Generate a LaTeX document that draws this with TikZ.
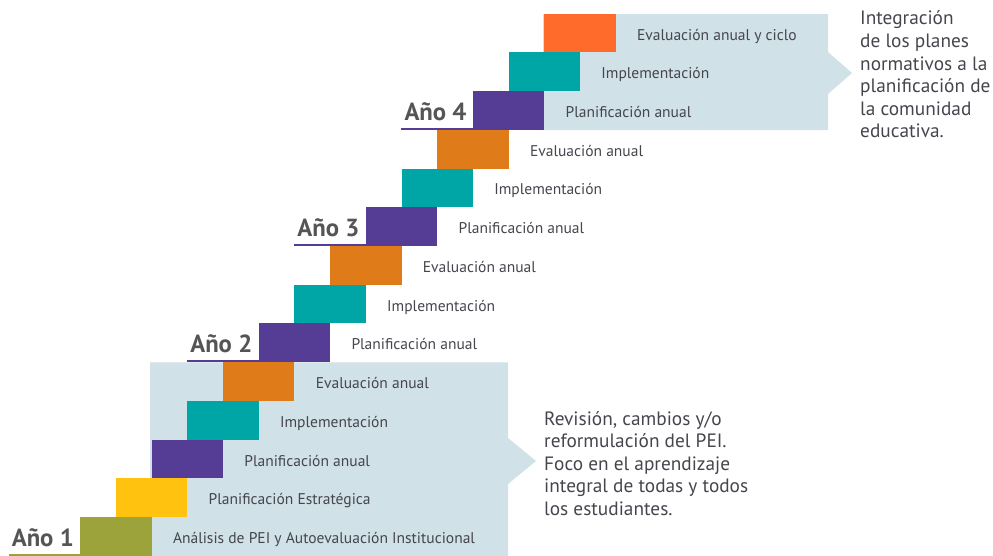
\documentclass[tikz,border=0pt]{standalone}
\usepackage{fontspec}
\setmainfont{PT Sans}
\definecolor{cOlive}{HTML}{9BA33A}
\definecolor{cYellow}{HTML}{FFC20E}
\definecolor{cPurple}{HTML}{553D96}
\definecolor{cTeal}{HTML}{00A6A6}
\definecolor{cOrange}{HTML}{E07B1A}
\definecolor{cRed}{HTML}{FF6B2B}
\definecolor{cBox}{HTML}{D0E1E7}
\definecolor{cText}{HTML}{45454D}
\definecolor{cYear}{HTML}{555555}
\newlength\tmpw
\begin{document}
\settowidth\tmpw{\fontsize{10pt}{12pt}\selectfont Análisis de PEI y Autoevaluación Institucional}%
\pgfmathsetmacro\fsStep{10*302/\tmpw}%
\settowidth\tmpw{\fontsize{10pt}{12pt}\selectfont\bfseries Año 4}%
\pgfmathsetmacro\fsYear{10*62/\tmpw}%
\settowidth\tmpw{\fontsize{10pt}{12pt}\selectfont integral de todas y todos}%
\pgfmathsetmacro\fsSide{10*204/\tmpw}%
\begin{tikzpicture}[x=1pt,y=-1pt,
  stepbox/.style={minimum width=71.4pt,minimum height=38.72pt,inner sep=0,draw=none,anchor=south west},
  steplabel/.style={font=\fontsize{\fsStep pt}{\fsStep pt}\selectfont,text=cText,inner sep=0,anchor=base west},
  yearlabel/.style={font=\fontsize{\fsYear pt}{\fsYear pt}\selectfont\bfseries,text=cYear,inner xsep=3pt,inner ysep=0,anchor=base east},
  sidetext/.style={font=\fontsize{\fsSide pt}{\fsSide pt}\selectfont,text=cText,inner sep=0,anchor=base west},
  yearline/.style={line width=2.5pt}]
\useasboundingbox (0,0) rectangle (993,556);
\def\dx{35.7}\def\dy{38.72}
% background boxes with arrow tips
\fill[cBox] (150,362.4) -- (508,362.4) -- (508,438) -- (536,461) -- (508,484) -- (508,556) -- (150,556) -- cycle;
\fill[cBox] (543,14.2) -- (828,14.2) -- (828,52) -- (852,73) -- (828,94) -- (828,130.1) -- (543,130.1) -- cycle;
% steps
\foreach \k/\c/\t in {0/cOlive/{Análisis de PEI y Autoevaluación Institucional},
  1/cYellow/{Planificación Estratégica},
  2/cPurple/{Planificación anual},
  3/cTeal/{Implementación},
  4/cOrange/{Evaluación anual},
  5/cPurple/{Planificación anual},
  6/cTeal/{Implementación},
  7/cOrange/{Evaluación anual},
  8/cPurple/{Planificación anual},
  9/cTeal/{Implementación},
  10/cOrange/{Evaluación anual},
  11/cPurple/{Planificación anual},
  12/cTeal/{Implementación},
  13/cRed/{Evaluación anual y ciclo}}{
  \node[stepbox,fill=\c] (s\k) at ({80+\k*\dx},{556-\k*\dy}) {};
  \node[steplabel] (l\k) at ([xshift=21pt,yshift=-7pt]s\k.east) {\t};
}
% year labels
\foreach \k/\c/\t in {0/cOlive/Año 1, 5/cPurple/Año 2, 8/cPurple/Año 3, 11/cPurple/Año 4}{
  \node[yearlabel] (y\k) at ([xshift=-3pt,yshift=-10pt]s\k.west) {\t};
  \coordinate (u\k) at ([yshift=1.25pt]s\k.south west);
  \draw[yearline,\c] (y\k.west |- u\k) -- (u\k);
}
% side texts
\foreach \i/\t in {0/Integración, 1/de los planes, 2/normativos a la, 3/planificación de, 4/la comunidad, 5/educativa.}{
  \node[sidetext] (ta\i) at (860,{25+\i*22.6}) {\t};
}
\foreach \i/\t in {0/{Revisión, cambios y/o}, 1/reformulación del PEI., 2/Foco en el aprendizaje, 3/integral de todas y todos, 4/los estudiantes.}{
  \node[sidetext] (tb\i) at (544,{425+\i*22.5}) {\t};
}
\end{tikzpicture}
\end{document}
